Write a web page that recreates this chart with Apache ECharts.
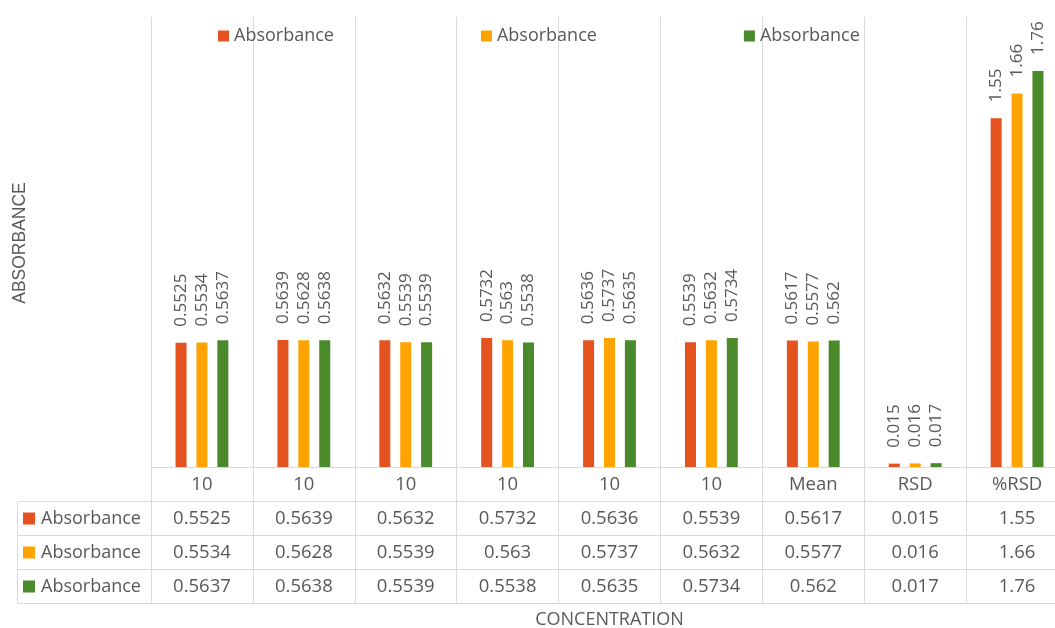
<!DOCTYPE html>
<html>
<head>
<meta charset="utf-8">
<script src="https://cdn.jsdelivr.net/npm/echarts@6/dist/echarts.min.js"></script>
<style>
  html, body { margin: 0; padding: 0; background: #ffffff; }
  #chart { width: 1055px; height: 628px; }
</style>
</head>
<body>
<div id="chart"></div>
<script>
// Categories along the concentration axis
const categories = ['10', '10', '10', '10', '10', '10', 'Mean', 'RSD', '%RSD'];

// Three absorbance runs
const run1 = [0.5525, 0.5639, 0.5632, 0.5732, 0.5636, 0.5539, 0.5617, 0.015, 1.55];
const run2 = [0.5534, 0.5628, 0.5539, 0.563, 0.5737, 0.5632, 0.5577, 0.016, 1.66];
const run3 = [0.5637, 0.5638, 0.5539, 0.5538, 0.5635, 0.5734, 0.562, 0.017, 1.76];

const seriesKeys = ['run1', 'run2', 'run3'];
const seriesLabels = ['Absorbance', 'Absorbance', 'Absorbance'];
const seriesColors = ['#E4531F', '#FFA300', '#4B8A2B'];
const runs = [run1, run2, run3];

const yTitle = 'ABSORBANCE';
const xTitle = 'CONCENTRATION';

// Layout (the plot runs slightly past the right edge of the canvas)
const GRID_LEFT = 151;
const GRID_TOP = 17;
const GRID_WIDTH = 917;
const PLOT_BOTTOM = 467;
const ROW_H = 34;
const TABLE_LEFT = 17;
const W = 1055, H = 628;
const LINE = '#d9d9d9';
const TEXT = '#595959';
const FONT = 'Open Sans';

const chart = echarts.init(document.getElementById('chart'), null, { renderer: 'canvas' });

// Data table rows are extra category axes stacked under the plot
const tableAxes = runs.map((vals, k) => ({
  type: 'category',
  data: categories,
  position: 'bottom',
  offset: ROW_H * (k + 1),
  axisLine: { show: true, lineStyle: { color: LINE, width: 1 } },
  axisTick: { show: true, length: ROW_H, lineStyle: { color: LINE } },
  axisLabel: {
    interval: 0, margin: 8, fontSize: 18.5, color: TEXT, fontFamily: FONT,
    formatter: (v, i) => String(vals[i])
  },
  splitLine: { show: false }
}));

const xAxes = [{
  type: 'category',
  data: categories,
  position: 'bottom',
  axisLine: { show: true, lineStyle: { color: LINE, width: 1 } },
  axisTick: { show: true, length: ROW_H, lineStyle: { color: LINE } },
  axisLabel: { interval: 0, margin: 8, fontSize: 18.5, color: TEXT, fontFamily: FONT },
  splitLine: { show: true, lineStyle: { color: LINE, width: 1 } }
}].concat(tableAxes).concat([{
  // closing line under the last table row
  type: 'category',
  data: categories,
  position: 'bottom',
  offset: ROW_H * (runs.length + 1),
  axisLine: { show: true, lineStyle: { color: LINE, width: 1 } },
  axisTick: { show: false },
  axisLabel: { show: false },
  splitLine: { show: false }
}]);

// Row headers on the left side of the table
const rowGraphics = [];
const tableTop = PLOT_BOTTOM + ROW_H;
const tableBottom = PLOT_BOTTOM + ROW_H * (runs.length + 1);
for (let k = 0; k <= runs.length; k++) {
  const y = PLOT_BOTTOM + ROW_H * (k + 1) + 0.5;
  rowGraphics.push({
    type: 'line', silent: true,
    shape: { x1: TABLE_LEFT + 0.5, y1: y, x2: GRID_LEFT + 0.5, y2: y },
    style: { stroke: LINE, lineWidth: 1 }
  });
}
rowGraphics.push({
  type: 'line', silent: true,
  shape: { x1: TABLE_LEFT + 0.5, y1: tableTop + 0.5, x2: TABLE_LEFT + 0.5, y2: tableBottom + 0.5 },
  style: { stroke: LINE, lineWidth: 1 }
});
runs.forEach((vals, k) => {
  const cy = PLOT_BOTTOM + ROW_H * (k + 1) + ROW_H / 2 + 0.5;
  rowGraphics.push({
    type: 'rect', silent: true,
    shape: { x: 23, y: cy - 6, width: 12, height: 12 },
    style: { fill: seriesColors[k] }
  });
  rowGraphics.push({
    type: 'text', silent: true,
    x: 41, y: cy,
    style: { text: seriesLabels[k], fill: TEXT, font: '18px "' + FONT + '"', align: 'left', verticalAlign: 'middle' }
  });
});

// Axis titles
const plotCenterX = GRID_LEFT + GRID_WIDTH / 2;
rowGraphics.push({
  type: 'text', silent: true,
  x: 20, y: 243, rotation: Math.PI / 2,
  style: { text: yTitle, fill: TEXT, font: '17.5px "Liberation Sans"', align: 'center', verticalAlign: 'middle' }
});
rowGraphics.push({
  type: 'text', silent: true,
  x: plotCenterX, y: 620,
  style: { text: xTitle, fill: TEXT, font: '18px "' + FONT + '"', align: 'center', verticalAlign: 'middle' }
});

const option = {
  animation: false,
  textStyle: { fontFamily: FONT },
  color: seriesColors,
  legend: {
    data: seriesKeys,
    left: 213,
    top: 22,
    itemWidth: 11,
    itemHeight: 11,
    itemGap: 147,
    icon: 'rect',
    formatter: name => seriesLabels[seriesKeys.indexOf(name)],
    textStyle: { fontSize: 18, color: TEXT, fontFamily: FONT }
  },
  grid: {
    left: GRID_LEFT, top: GRID_TOP, width: GRID_WIDTH, height: PLOT_BOTTOM - GRID_TOP,
    containLabel: false, outerBoundsMode: 'none'
  },
  xAxis: xAxes,
  yAxis: {
    type: 'value', min: 0, max: 2,
    axisLine: { show: false }, axisTick: { show: false },
    axisLabel: { show: false }, splitLine: { show: false }
  },
  series: runs.map((vals, k) => ({
    type: 'bar',
    name: seriesKeys[k],
    data: vals,
    xAxisIndex: 0,
    barWidth: 11,
    barGap: '90%',
    itemStyle: { color: seriesColors[k] },
    label: {
      show: true, position: 'top', rotate: 90, align: 'left', verticalAlign: 'middle',
      distance: 16, fontSize: 17, color: TEXT, fontFamily: FONT,
      formatter: p => String(p.value)
    }
  })),
  graphic: rowGraphics
};

chart.setOption(option);
</script>
</body>
</html>
